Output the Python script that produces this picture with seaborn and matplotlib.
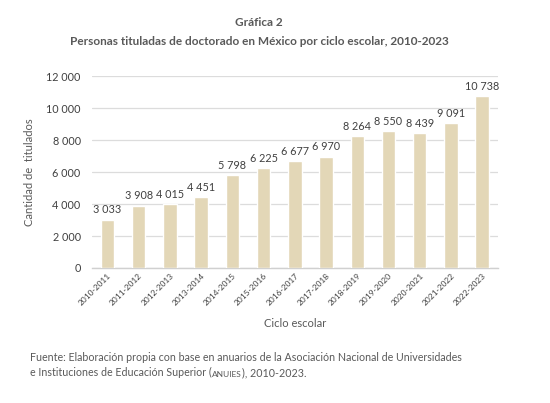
import matplotlib

matplotlib.use("Agg")
import matplotlib.pyplot as plt
import pandas as pd
import seaborn as sns

# Data
ciclos = [
    "2010-2011", "2011-2012", "2012-2013", "2013-2014", "2014-2015",
    "2015-2016", "2016-2017", "2017-2018", "2018-2019", "2019-2020",
    "2020-2021", "2021-2022", "2022-2023",
]
titulados = [3033, 3908, 4015, 4451, 5798, 6225, 6677, 6970, 8264, 8550, 8439, 9091, 10738]
y_ticks = [0, 2000, 4000, 6000, 8000, 10000, 12000]

df = pd.DataFrame({"ciclo": ciclos, "titulados": titulados})


def fmt(v):
    return f"{v:,}".replace(",", " ")


sns.set_theme(style="white")
plt.rcParams["font.family"] = ["Lato", "DejaVu Sans"]

txt = "#595959"
bar_color = "#e3d7b7"

fig = plt.figure(figsize=(5.5, 4.03), dpi=100)
ax = fig.add_axes([0.167, 0.335, 0.738, 0.476])

sns.barplot(data=df, x="ciclo", y="titulados", color=bar_color, width=0.43,
            saturation=1, ax=ax, zorder=3)

for i, v in enumerate(titulados):
    ax.annotate(fmt(v), (i, v), xytext=(0, 3), textcoords="offset points",
                ha="center", va="bottom", fontsize=7.8, color="#404040")

ax.set_ylim(0, 12000)
ax.set_yticks(y_ticks)
ax.set_yticklabels([fmt(t) for t in y_ticks])
ax.yaxis.grid(True, color="#dcdcdc", linewidth=0.9, zorder=0)
ax.set_axisbelow(True)

for s in ["top", "right", "left"]:
    ax.spines[s].set_visible(False)
ax.spines["bottom"].set_color("#d0d0d0")
ax.spines["bottom"].set_linewidth(1.0)

ax.tick_params(axis="y", length=0, pad=8, labelsize=7.8, labelcolor="#404040")
ax.tick_params(axis="x", length=0, pad=3, labelsize=6, labelcolor="#404040")
plt.setp(ax.get_xticklabels(), rotation=45, ha="right", rotation_mode="anchor")

ax.set_xlabel("Ciclo escolar", fontsize=8, color=txt, labelpad=8)
ax.set_ylabel("Cantidad de  titulados", fontsize=8, color=txt, labelpad=8)

# Titles
fig.text(0.471, 0.943, "Gráfica 2", ha="center", va="center",
         fontsize=8.5, fontweight="bold", color=txt)
fig.text(0.471, 0.896, "Personas tituladas de doctorado en México por ciclo escolar, 2010-2023",
         ha="center", va="center", fontsize=8.5, fontweight="bold", color=txt)

# Source note
fig.text(0.055, 0.113,
         "Fuente: Elaboración propia con base en anuarios de la Asociación Nacional de Universidades",
         ha="left", va="center", fontsize=7.7, color=txt)
t1 = fig.text(0.055, 0.075, "e Instituciones de Educación Superior (",
              ha="left", va="center", fontsize=7.7, color=txt)
t2 = ax.annotate("ANUIES", xy=(1, 0), xycoords=t1, va="bottom", ha="left",
                 fontsize=6, color=txt, annotation_clip=False)
ax.annotate("), 2010-2023.", xy=(1, 0), xycoords=t2, va="bottom", ha="left",
            fontsize=7.7, color=txt, annotation_clip=False)

fig.savefig("out.png", dpi=100)
